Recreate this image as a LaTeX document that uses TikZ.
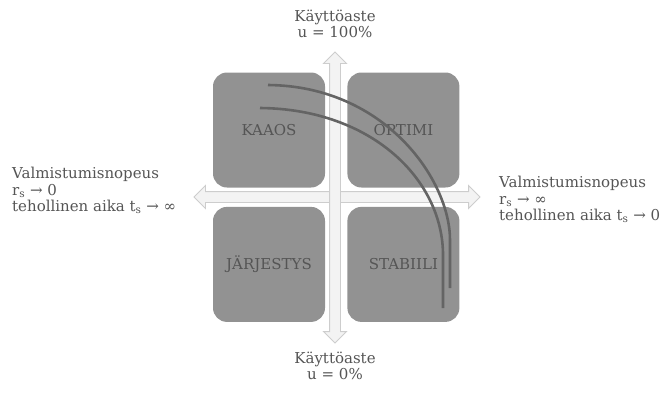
\documentclass[tikz,border=0pt]{standalone}
\usepackage{fontspec}
\setmainfont{DejaVu Serif}
\usetikzlibrary{shapes.arrows,positioning}
\definecolor{harmaaLaatikko}{RGB}{146,146,146}
\definecolor{harmaaTeksti}{RGB}{85,85,85}
\definecolor{harmaaKayra}{RGB}{100,100,100}
\definecolor{akseliReuna}{RGB}{205,205,205}
\definecolor{akseliTayte}{RGB}{243,243,243}
\tikzset{
  laatikko/.style={rectangle, fill=harmaaLaatikko, rounded corners=14pt,
                   minimum width=112pt, minimum height=115pt, inner sep=0pt,
                   align=center, text=harmaaTeksti, font=\fontsize{15}{17}\selectfont},
  akseli/.style={double arrow, draw=akseliReuna, fill=akseliTayte, line width=0.9pt,
                 inner xsep=0pt, inner ysep=5pt, minimum width=22pt,
                 double arrow head extend=6pt, double arrow head indent=0pt},
  selite/.style={inner sep=0pt, text=harmaaTeksti, font=\fontsize{15}{16.5}\selectfont},
  kayra/.style={harmaaKayra, line width=2.6pt},
}

\begin{document}
\begin{tikzpicture}[x=1pt, y=-1pt, node distance=22pt and 19pt]
  \useasboundingbox (0,0) rectangle (669,392);
  % nelikentta
  \node[laatikko] (kaaos) at (269,130) {KAAOS};
  \node[laatikko, right=22pt of kaaos] (optimi) {OPTIMI};
  \node[laatikko, below=19pt of kaaos] (jarjestys) {JÄRJESTYS};
  \node[laatikko, below=19pt of optimi] (stabiili) {STABIILI};
  % akselit
  \node[akseli, minimum height=286pt] (vaaka) at (337,197) {};
  \node[akseli, minimum height=291pt, rotate=90] (pysty) at (335,197.5) {};
  % selitteet
  \node[selite, align=center] (yla) at (335,24) {Käyttöaste\\u = 100\%};
  \node[selite, align=center] (ala) at (335,366) {Käyttöaste\\u = 0\%};
  \node[selite, align=left, anchor=north west] (vasen) at (12,167)
       {Valmistumisnopeus\\r\textsubscript{s} → 0\\tehollinen aika t\textsubscript{s} → ∞};
  \node[selite, align=left, anchor=north west] (oikea) at (499,176)
       {Valmistumisnopeus\\r\textsubscript{s} → ∞\\tehollinen aika t\textsubscript{s} → 0};
  % kayrat
  \coordinate (k1a) at (268,85);  \coordinate (k1b) at (450,288);
  \coordinate (k2a) at (260,108); \coordinate (k2b) at (443,308);
  \draw[kayra] (k1a) .. controls (385,86) and (450,180) .. (450,240) -- (k1b);
  \draw[kayra] (k2a) .. controls (372,109) and (443,180) .. (443,255) -- (k2b);
\end{tikzpicture}
\end{document}
